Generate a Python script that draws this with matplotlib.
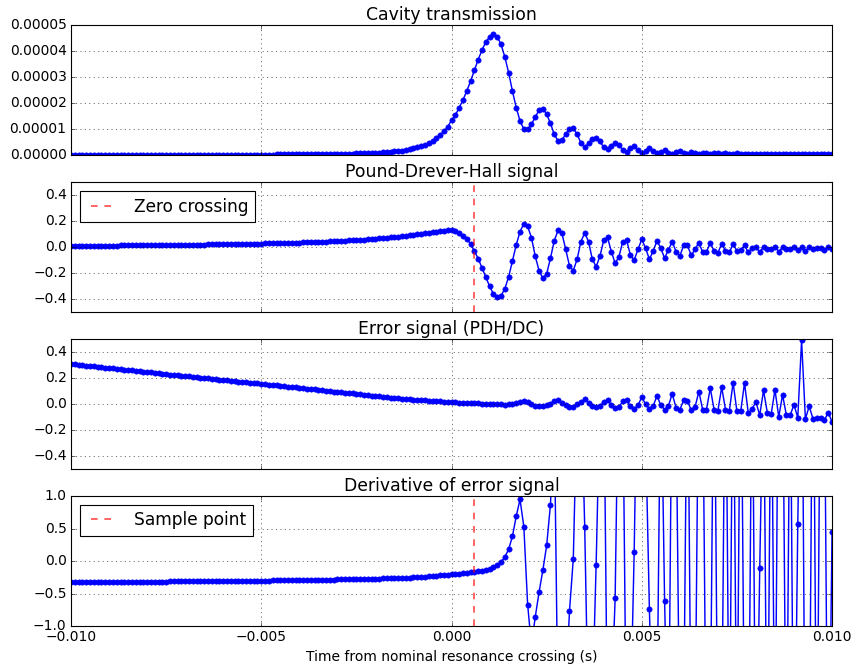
#!/usr/bin/env python
# -*- coding: utf-8 -*-
"""Cavity sweep: transmission, PDH, error signal and its derivative."""
import matplotlib

matplotlib.use("Agg")
import matplotlib.pyplot as plt
import numpy as np

# sample index -100..100, 0.1 ms apart
time_steps = np.arange(-100, 101)

# cavity transmission, in units of 1e-5
transmission = [
    0.007, 0.007, 0.007, 0.007, 0.008, 0.008, 0.008, 0.008, 0.008, 0.008,
    0.009, 0.009, 0.009, 0.009, 0.009, 0.009, 0.010, 0.010, 0.010, 0.010,
    0.010, 0.011, 0.011, 0.011, 0.012, 0.012, 0.012, 0.013, 0.013, 0.013,
    0.014, 0.014, 0.014, 0.015, 0.015, 0.016, 0.016, 0.017, 0.017, 0.017,
    0.017, 0.018, 0.019, 0.019, 0.020, 0.021, 0.021, 0.022, 0.022, 0.023,
    0.023, 0.024, 0.025, 0.026, 0.027, 0.028, 0.029, 0.030, 0.031, 0.032,
    0.033, 0.034, 0.036, 0.037, 0.039, 0.041, 0.043, 0.045, 0.047, 0.049,
    0.051, 0.054, 0.057, 0.060, 0.063, 0.067, 0.071, 0.075, 0.080, 0.085,
    0.090, 0.100, 0.110, 0.120, 0.130, 0.145, 0.160, 0.180, 0.200, 0.230,
    0.26, 0.30, 0.34, 0.40, 0.47, 0.55, 0.65, 0.77, 0.92, 1.09,
    1.35, 1.54, 1.83, 2.12, 2.47, 2.85, 3.27, 3.68, 4.04, 4.36,
    4.55, 4.65, 4.55, 4.27, 3.78, 3.18, 2.47, 1.83, 1.32, 1.00,
    0.99, 1.19, 1.47, 1.73, 1.79, 1.58, 1.22, 0.80, 0.55, 0.58,
    0.81, 1.00, 1.03, 0.81, 0.47, 0.32, 0.45, 0.62, 0.68, 0.53,
    0.30, 0.22, 0.35, 0.48, 0.40, 0.19, 0.13, 0.26, 0.35, 0.19,
    0.09, 0.17, 0.26, 0.17, 0.09, 0.13, 0.19, 0.10, 0.06, 0.13,
    0.17, 0.09, 0.06, 0.12, 0.09, 0.06, 0.09, 0.09, 0.06, 0.09,
    0.07, 0.06, 0.08, 0.06, 0.05, 0.07, 0.05, 0.05, 0.06, 0.04,
    0.05, 0.05, 0.04, 0.05, 0.04, 0.04, 0.05, 0.04, 0.04, 0.04,
    0.04, 0.03, 0.04, 0.04, 0.03, 0.04, 0.03, 0.03, 0.04, 0.03,
    0.03,
]

pdh = [
    0.010, 0.010, 0.010, 0.010, 0.011, 0.011, 0.011, 0.011, 0.011, 0.012,
    0.012, 0.012, 0.012, 0.013, 0.013, 0.013, 0.013, 0.014, 0.014, 0.014,
    0.015, 0.015, 0.015, 0.016, 0.016, 0.016, 0.017, 0.017, 0.017, 0.018,
    0.018, 0.019, 0.019, 0.019, 0.020, 0.020, 0.021, 0.021, 0.022, 0.022,
    0.023, 0.023, 0.024, 0.024, 0.025, 0.025, 0.026, 0.026, 0.027, 0.027,
    0.028, 0.029, 0.029, 0.030, 0.031, 0.031, 0.032, 0.033, 0.034, 0.035,
    0.036, 0.037, 0.038, 0.039, 0.040, 0.041, 0.042, 0.043, 0.045, 0.046,
    0.047, 0.049, 0.050, 0.052, 0.054, 0.055, 0.057, 0.059, 0.061, 0.063,
    0.065, 0.067, 0.070, 0.072, 0.075, 0.078, 0.081, 0.084, 0.088, 0.091,
    0.095, 0.099, 0.103, 0.107, 0.111, 0.115, 0.119, 0.123, 0.127, 0.130,
    0.131, 0.124, 0.107, 0.086, 0.063, 0.025, -0.030, -0.088, -0.160, -0.230,
    -0.300, -0.360, -0.385, -0.375, -0.320, -0.230, -0.106, 0.017, 0.120, 0.180,
    0.160, 0.074, -0.070, -0.180, -0.240, -0.205, -0.085, 0.050, 0.130, 0.107,
    -0.016, -0.144, -0.180, -0.093, 0.043, 0.110, 0.043, -0.093, -0.150, -0.070,
    0.054, 0.075, -0.034, -0.124, -0.073, 0.043, 0.055, -0.060, -0.100, -0.016,
    0.060, -0.008, -0.093, -0.030, 0.050, -0.008, -0.085, -0.022, 0.043, -0.034,
    -0.067, 0.013, 0.013, -0.062, -0.016, 0.035, -0.039, -0.034, 0.030, -0.027,
    -0.042, 0.025, -0.027, -0.039, 0.022, -0.027, -0.022, 0.013, -0.039, -0.008,
    0.000, -0.039, 0.005, -0.016, -0.016, 0.005, -0.034, 0.000, -0.016, -0.011,
    0.000, -0.022, 0.000, -0.027, 0.000, -0.016, -0.008, -0.008, -0.022, 0.000,
    -0.016,
]

error = [
    0.310, 0.307, 0.304, 0.300, 0.297, 0.294, 0.291, 0.288, 0.284, 0.281,
    0.278, 0.275, 0.272, 0.269, 0.265, 0.262, 0.259, 0.256, 0.253, 0.250,
    0.247, 0.244, 0.241, 0.238, 0.234, 0.231, 0.228, 0.225, 0.222, 0.219,
    0.216, 0.213, 0.210, 0.207, 0.204, 0.201, 0.198, 0.195, 0.192, 0.189,
    0.186, 0.183, 0.180, 0.177, 0.174, 0.171, 0.168, 0.165, 0.162, 0.159,
    0.156, 0.153, 0.150, 0.147, 0.144, 0.141, 0.138, 0.134, 0.131, 0.128,
    0.125, 0.122, 0.119, 0.116, 0.113, 0.110, 0.107, 0.103, 0.100, 0.097,
    0.094, 0.091, 0.088, 0.085, 0.082, 0.079, 0.076, 0.073, 0.070, 0.066,
    0.062, 0.059, 0.056, 0.053, 0.050, 0.047, 0.044, 0.041, 0.039, 0.037,
    0.035, 0.033, 0.031, 0.029, 0.027, 0.025, 0.023, 0.021, 0.019, 0.017,
    0.016, 0.014, 0.012, 0.011, 0.009, 0.008, 0.006, 0.005, 0.004, 0.003,
    0.002, 0.001, 0.000, -0.002, -0.004, -0.002, 0.002, 0.009, 0.018, 0.024,
    0.016, -0.001, -0.014, -0.017, -0.017, -0.009, 0.004, 0.021, 0.029, 0.011,
    -0.009, -0.022, -0.022, -0.001, 0.016, 0.037, 0.011, -0.017, -0.022, -0.014,
    0.016, 0.034, -0.009, -0.027, -0.022, 0.021, 0.034, -0.017, -0.035, -0.009,
    0.054, -0.001, -0.035, -0.014, 0.064, -0.009, -0.042, -0.014, 0.079, -0.027,
    -0.042, 0.029, 0.024, -0.047, -0.022, 0.097, -0.042, -0.042, 0.123, -0.042,
    -0.052, 0.130, -0.042, -0.055, 0.166, -0.055, -0.055, 0.163, -0.072, -0.035,
    0.016, -0.085, 0.105, -0.067, -0.077, 0.110, -0.098, 0.072, -0.085, -0.085,
    -0.004, -0.105, 0.490, -0.113, -0.017, -0.113, -0.103, -0.103, -0.123, -0.065,
    -0.136,
]

derivative = [
    -0.325, -0.325, -0.324, -0.324, -0.324, -0.323, -0.323, -0.322, -0.322, -0.322,
    -0.321, -0.321, -0.320, -0.320, -0.320, -0.319, -0.319, -0.318, -0.318, -0.318,
    -0.317, -0.317, -0.316, -0.316, -0.315, -0.315, -0.314, -0.314, -0.313, -0.313,
    -0.312, -0.312, -0.311, -0.311, -0.310, -0.310, -0.309, -0.309, -0.308, -0.308,
    -0.307, -0.307, -0.306, -0.305, -0.305, -0.304, -0.304, -0.303, -0.302, -0.302,
    -0.301, -0.300, -0.300, -0.299, -0.298, -0.297, -0.297, -0.296, -0.295, -0.294,
    -0.293, -0.292, -0.291, -0.290, -0.289, -0.288, -0.287, -0.286, -0.285, -0.284,
    -0.283, -0.282, -0.281, -0.280, -0.279, -0.278, -0.277, -0.276, -0.275, -0.274,
    -0.272, -0.270, -0.268, -0.266, -0.264, -0.262, -0.260, -0.258, -0.256, -0.254,
    -0.252, -0.248, -0.244, -0.240, -0.236, -0.232, -0.227, -0.222, -0.217, -0.211,
    -0.205, -0.199, -0.193, -0.187, -0.181, -0.175, -0.166, -0.158, -0.148, -0.135,
    -0.118, -0.095, -0.062, -0.015, 0.062, 0.180, 0.380, 0.690, 0.950, 0.530,
    -0.670, -1.300, -0.860, -0.480, -0.140, 0.240, 0.870, 2.200, -2.500, -3.000,
    -2.000, -0.770, 0.036, 2.500, 2.800, 0.530, -2.600, -2.200, -0.060, 2.500,
    3.000, -2.800, -2.200, -0.570, 3.500, 2.800, -3.200, -2.500, 0.140, 3.800,
    2.600, 2.000, -0.740, -3.000, -2.400, 3.200, -0.620, -3.400, 3.600, 2.500,
    -3.000, -2.600, 3.800, -3.200, -2.800, 3.500, 3.000, -3.600, -2.700, 3.900,
    -3.300, -2.900, 4.000, -3.500, 3.800, -3.400, 4.100, -3.000, -3.800, 3.600,
    -3.900, -0.110, 3.200, -4.000, 3.700, -3.500, 4.200, 3.400, -3.800, 3.500,
    -4.300, 0.565, 4.500, -4.000, -3.500, 4.400, -4.100, 3.900, 3.000, -4.500,
    0.440,
]

sample_time = 0.0006

titles = [
    "Cavity transmission",
    "Pound-Drever-Hall signal",
    "Error signal (PDH/DC)",
    "Derivative of error signal",
]


def main():
    """Draw the four panels."""
    plt.style.use("classic")
    time = time_steps * 1e-4
    series = [
        np.array(transmission) * 1e-5,
        np.array(pdh),
        np.array(error),
        np.array(derivative),
    ]

    fig, axes = plt.subplots(4, 1, sharex=True, figsize=(10.7, 8.3125), dpi=80)
    fig.patch.set_facecolor("white")
    fig.subplots_adjust(left=0.083, right=0.972, bottom=0.0586, top=0.962,
                        hspace=0.208)

    for ax, values, title in zip(axes, series, titles):
        ax.plot(time, values, "b-", marker="o", markersize=4.8,
                markeredgecolor="b", linewidth=1.3)
        ax.set_title(title, fontsize=15.5)
        ax.grid(True)
        ax.tick_params(labelsize=12.5)

    axes[0].set_ylim(0, 5e-5)
    axes[0].set_yticks(np.arange(6) * 1e-5)
    axes[1].set_ylim(-0.5, 0.5)
    axes[1].set_yticks([-0.4, -0.2, 0.0, 0.2, 0.4])
    axes[2].set_ylim(-0.5, 0.5)
    axes[2].set_yticks([-0.4, -0.2, 0.0, 0.2, 0.4])
    axes[3].set_ylim(-1, 1)
    axes[3].set_yticks([-1.0, -0.5, 0.0, 0.5, 1.0])

    axes[1].axvline(sample_time, color="r", linestyle="--", alpha=0.7,
                    linewidth=1.5, label="Zero crossing")
    axes[3].axvline(sample_time, color="r", linestyle="--", alpha=0.7,
                    linewidth=1.5, label="Sample point")
    for ax in (axes[1], axes[3]):
        ax.legend(loc="upper left", fontsize=15.3)

    axes[3].set_xlim(-0.01, 0.01)
    axes[3].set_xticks([-0.01, -0.005, 0.0, 0.005, 0.01])
    axes[3].set_xlabel("Time from nominal resonance crossing (s)", fontsize=12.5)

    fig.savefig("out.png", dpi=80, facecolor="white")


if __name__ == "__main__":
    main()
